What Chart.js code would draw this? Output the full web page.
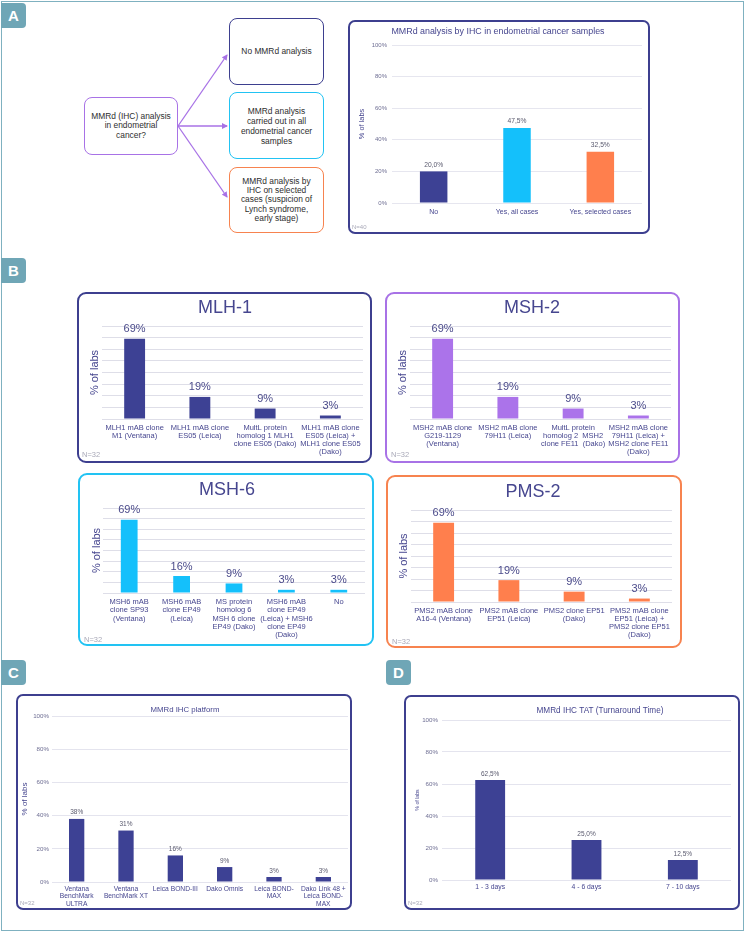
<!DOCTYPE html>
<html>
<head>
<meta charset="utf-8">
<script src="https://cdn.jsdelivr.net/npm/chart.js@4.4.1/dist/chart.umd.min.js"></script>
<style>
  body { margin: 0; background: #fff; font-family: "Liberation Sans", Arial, sans-serif; }
  #page { position: relative; width: 745px; height: 932px; overflow: hidden; background: #fff; }
  #frame { position: absolute; left: 1px; top: 1px; width: 743px; height: 930px; box-sizing: border-box; border: 1.5px solid #7fb1c0; }
  .tag { position: absolute; width: 25px; height: 25px; background: #6fa6b6; color: #fff; font: bold 15px "Liberation Sans", Arial, sans-serif; line-height: 25px; text-align: center; border-radius: 0 4px 4px 0; }
  .box { position: absolute; box-sizing: border-box; border: 2px solid; border-radius: 9px; pointer-events: none; }
  canvas { position: absolute; }
  .flow { position: absolute; box-sizing: border-box; border: 1.5px solid; border-radius: 8px; display: flex; align-items: center; justify-content: center; text-align: center; font-size: 8.4px; line-height: 9.6px; color: #2e2e2e; }
  svg { position: absolute; left: 0; top: 0; }
</style>
</head>
<body>
<div id="page">
  <div id="frame"></div>

  <div class="tag" style="left:1px;top:3px;">A</div>
  <div class="tag" style="left:1px;top:258px;">B</div>
  <div class="tag" style="left:1px;top:660px;">C</div>
  <div class="tag" style="left:386px;top:660px;border-radius:4px;">D</div>

  <!-- flowchart -->
  <div class="flow" style="left:84px;top:97px;width:94px;height:58px;border-color:#a872e6;">MMRd (IHC) analysis<br>in endometrial<br>cancer?</div>
  <div class="flow" style="left:229px;top:18px;width:95px;height:67px;border-color:#3d3f8f;">No MMRd analysis</div>
  <div class="flow" style="left:229px;top:92px;width:95px;height:67px;border-color:#22c3f3;line-height:10px;">MMRd analysis<br>carried out in all<br>endometrial cancer<br>samples</div>
  <div class="flow" style="left:229px;top:167px;width:95px;height:66px;border-color:#f7834f;line-height:9.3px;">MMRd analysis by<br>IHC on selected<br>cases (suspicion of<br>Lynch syndrome,<br>early stage)</div>
  <svg width="745" height="260">
    <defs>
      <marker id="ah" markerWidth="6" markerHeight="6" refX="5" refY="3" orient="auto" markerUnits="userSpaceOnUse">
        <path d="M0,0 L6,3 L0,6 z" fill="#a872e6"/>
      </marker>
    </defs>
    <line x1="178" y1="126" x2="227" y2="55" stroke="#a872e6" stroke-width="1.3" marker-end="url(#ah)"/>
    <line x1="178" y1="126" x2="227" y2="126" stroke="#a872e6" stroke-width="1.3" marker-end="url(#ah)"/>
    <line x1="178" y1="126" x2="227" y2="197" stroke="#a872e6" stroke-width="1.3" marker-end="url(#ah)"/>
  </svg>

  <canvas id="chartA"></canvas>
  <canvas id="chartMLH1"></canvas>
  <canvas id="chartMSH2"></canvas>
  <canvas id="chartMSH6"></canvas>
  <canvas id="chartPMS2"></canvas>
  <canvas id="chartC"></canvas>
  <canvas id="chartD"></canvas>

  <div class="box" style="left:348px;top:20px;width:302px;height:214px;border-color:#3d3f8f;border-radius:7px;"></div>
  <div class="box" style="left:77px;top:292px;width:295px;height:171px;border-color:#3d3f8f;"></div>
  <div class="box" style="left:385px;top:292px;width:295px;height:171px;border-color:#a872e6;"></div>
  <div class="box" style="left:78px;top:473px;width:296px;height:173px;border-color:#22c3f3;"></div>
  <div class="box" style="left:386px;top:475px;width:296px;height:173px;border-color:#f7834f;"></div>
  <div class="box" style="left:16px;top:694px;width:336px;height:216px;border-color:#3d3f8f;border-radius:7px;"></div>
  <div class="box" style="left:404px;top:695px;width:336px;height:215px;border-color:#3d3f8f;border-radius:7px;"></div>
</div>

<script>
// ---- data ----
const aLabels = ['No', 'Yes, all cases', 'Yes, selected cases'];
const aValues = [20.0, 47.5, 32.5];

const mlh1Labels = [['MLH1 mAB clone', 'M1 (Ventana)'], ['MLH1 mAB clone', 'ES05 (Leica)'], ['MultL protein', 'homolog 1 MLH1', 'clone ES05 (Dako)'], ['MLH1 mAB clone', 'ES05 (Leica) +', 'MLH1 clone ES05', '(Dako)']];
const mlh1Values = [69, 19, 9, 3];

const msh2Labels = [['MSH2 mAB clone', 'G219-1129', '(Ventana)'], ['MSH2 mAB clone', '79H11 (Leica)'], ['MultL protein', 'homolog 2  MSH2', 'clone FE11  (Dako)'], ['MSH2 mAB clone', '79H11 (Leica) +', 'MSH2 clone FE11', '(Dako)']];
const msh2Values = [69, 19, 9, 3];

const msh6Labels = [['MSH6 mAB', 'clone SP93', '(Ventana)'], ['MSH6 mAB', 'clone EP49', '(Leica)'], ['MS protein', 'homolog 6', 'MSH 6 clone', 'EP49 (Dako)'], ['MSH6 mAB', 'clone EP49', '(Leica) + MSH6', 'clone EP49', '(Dako)'], ['No']];
const msh6Values = [69, 16, 9, 3, 3];

const pms2Labels = [['PMS2 mAB clone', 'A16-4 (Ventana)'], ['PMS2 mAB clone', 'EP51 (Leica)'], ['PMS2 clone EP51', '(Dako)'], ['PMS2 mAB clone', 'EP51 (Leica) +', 'PMS2 clone EP51', '(Dako)']];
const pms2Values = [69, 19, 9, 3];

const platformLabels = [['Ventana', 'BenchMark', 'ULTRA'], ['Ventana', 'BenchMark XT'], ['Leica BOND-III'], ['Dako Omnis'], ['Leica BOND-', 'MAX'], ['Dako Link 48 +', 'Leica BOND-', 'MAX']];
const platformValues = [38, 31, 16, 9, 3, 3];

const tatLabels = ['1 - 3 days', '4 - 6 days', '7 - 10 days'];
const tatValues = [62.5, 25.0, 12.5];

// ---- colours ----
const NAVY = '#3d4194';
const PURPLE = '#ab73ea';
const CYAN = '#14c0fb';
const ORANGE = '#ff7f4d';
const TXT = '#46468f';
const FAM = '"Liberation Sans", Arial, sans-serif';

Chart.defaults.font.family = FAM;

const comma = v => v.toFixed(1).replace('.', ',') + '%';
const pct = v => v + '%';

// title + N note, drawn in page coordinates
const panelText = {
  id: 'panelText',
  afterDraw(chart, args, o) {
    const ctx = chart.ctx;
    ctx.save();
    ctx.textAlign = 'center';
    ctx.textBaseline = 'middle';
    ctx.font = o.titleFont;
    ctx.fillStyle = o.titleColor;
    ctx.fillText(o.title, o.titleX - o.bx, o.titleY - o.by);
    ctx.textAlign = 'left';
    ctx.font = o.noteFont;
    ctx.fillStyle = '#a9a9b8';
    ctx.fillText(o.note, o.noteX - o.bx, o.noteY - o.by);
    ctx.restore();
  }
};

const valueLabels = {
  id: 'valueLabels',
  afterDatasetsDraw(chart, args, o) {
    const ctx = chart.ctx;
    const meta = chart.getDatasetMeta(0);
    const vals = chart.data.datasets[0].data;
    ctx.save();
    ctx.font = o.font;
    ctx.fillStyle = o.color;
    ctx.textAlign = 'center';
    ctx.textBaseline = 'bottom';
    meta.data.forEach((bar, i) => {
      ctx.fillText(o.format(vals[i]), bar.x, bar.y - o.gap);
    });
    ctx.restore();
  }
};

function makeBar(id, o) {
  const [bx, by, bw, bh] = o.box;
  const [cl, ct, cr, cb] = o.area;
  const el = document.getElementById(id);
  el.style.left = bx + 'px';
  el.style.top = by + 'px';
  el.width = bw;
  el.height = bh;
  const lh = o.yTitleSize * 1.2;
  const padLeft = Math.max(0, o.yTitleX - bx - lh / 2);
  const yWidth = cl - bx - padLeft;
  const xHeight = by + bh - cb;

  return new Chart(el, {
    type: 'bar',
    data: {
      labels: o.labels,
      datasets: [{
        data: o.values,
        backgroundColor: o.colors,
        barPercentage: o.barPct,
        categoryPercentage: 1
      }]
    },
    options: {
      responsive: false,
      animation: false,
      layout: { padding: { left: padLeft, top: ct - by, right: bx + bw - cr, bottom: 0 } },
      plugins: {
        legend: { display: false },
        tooltip: { enabled: false },
        panelText: {
          bx, by,
          title: o.title, titleX: o.titleX, titleY: o.titleY, titleFont: o.titleFont, titleColor: TXT,
          note: o.note, noteX: o.noteX, noteY: o.noteY, noteFont: o.noteFont
        },
        valueLabels: { font: o.valueFont, color: o.valueColor, gap: o.valueGap, format: o.format }
      },
      scales: {
        x: {
          grid: { display: false, drawTicks: false },
          border: { display: false },
          ticks: {
            font: { size: o.xSize, lineHeight: o.xLine },
            color: TXT,
            padding: o.xPad,
            maxRotation: 0,
            minRotation: 0,
            autoSkip: false
          },
          afterFit: s => { s.height = xHeight; s.paddingLeft = 0; s.paddingRight = 0; }
        },
        y: {
          min: 0,
          max: o.yMax,
          ticks: {
            stepSize: o.yStep,
            display: o.showTicks,
            font: { size: o.tickSize },
            color: '#6e6e93',
            padding: o.tickPad,
            callback: v => v + '%'
          },
          grid: { color: o.gridColor, drawTicks: false, lineWidth: 1 },
          border: { display: false },
          title: {
            display: true,
            text: '% of labs',
            font: { size: o.yTitleSize, lineHeight: 1.2 },
            color: TXT,
            padding: 0
          },
          afterFit: s => { s.width = yWidth; s.paddingTop = 0; s.paddingBottom = 0; }
        }
      }
    },
    plugins: [panelText, valueLabels]
  });
}

// Panel A
makeBar('chartA', {
  box: [348, 20, 302, 214], area: [392, 45, 642, 203],
  labels: aLabels, values: aValues, colors: [NAVY, CYAN, ORANGE], barPct: 0.33,
  title: 'MMRd analysis by IHC in endometrial cancer samples', titleX: 498, titleY: 32, titleFont: '8.9px ' + FAM,
  note: 'N=40', noteX: 352, noteY: 227, noteFont: '6px ' + FAM,
  valueFont: '6.7px ' + FAM, valueColor: '#5a5a6e', valueGap: 3, format: comma,
  xSize: 7, xLine: 1.2, xPad: 5,
  yMax: 100, yStep: 20, showTicks: true, tickSize: 6, tickPad: 5, gridColor: '#e6e6ef',
  yTitleSize: 7.4, yTitleX: 362
});

// Panel B
const bCommon = {
  yMax: 80, yStep: 10, showTicks: false, tickSize: 6, tickPad: 4, gridColor: '#dedee8',
  yTitleSize: 11, titleFont: '18px ' + FAM, noteFont: '7.5px ' + FAM, note: 'N=32',
  valueFont: '11px ' + FAM, valueColor: '#4a4a8a', valueGap: 4, format: pct,
  xSize: 7.5, xLine: 1.08, barPct: 0.32
};

makeBar('chartMLH1', Object.assign({}, bCommon, {
  box: [77, 292, 295, 171], area: [102, 326, 363, 419],
  labels: mlh1Labels, values: mlh1Values, colors: NAVY,
  title: 'MLH-1', titleX: 225, titleY: 308, noteX: 82, noteY: 455,
  xPad: 5, yTitleX: 95
}));

makeBar('chartMSH2', Object.assign({}, bCommon, {
  box: [385, 292, 295, 171], area: [410, 326, 671, 419],
  labels: msh2Labels, values: msh2Values, colors: PURPLE,
  title: 'MSH-2', titleX: 532, titleY: 308, noteX: 391, noteY: 455,
  xPad: 5, yTitleX: 403
}));

makeBar('chartMSH6', Object.assign({}, bCommon, {
  box: [78, 473, 296, 173], area: [103, 508, 365, 593],
  labels: msh6Labels, values: msh6Values, colors: CYAN, xLine: 1.1,
  title: 'MSH-6', titleX: 227, titleY: 490, noteX: 84, noteY: 640,
  xPad: 5, yTitleX: 97
}));

makeBar('chartPMS2', Object.assign({}, bCommon, {
  box: [386, 475, 296, 173], area: [411, 510, 672, 602],
  labels: pms2Labels, values: pms2Values, colors: ORANGE,
  title: 'PMS-2', titleX: 533, titleY: 492, noteX: 392, noteY: 642,
  xPad: 5, yTitleX: 404
}));

// Panel C
makeBar('chartC', {
  box: [16, 694, 336, 216], area: [52, 716, 348, 882],
  labels: platformLabels, values: platformValues, colors: NAVY, barPct: 0.31,
  title: 'MMRd IHC platform', titleX: 185, titleY: 710, titleFont: '7.8px ' + FAM,
  note: 'N=32', noteX: 20, noteY: 903, noteFont: '6px ' + FAM,
  valueFont: '6.5px ' + FAM, valueColor: '#5a5a6e', valueGap: 3, format: pct,
  xSize: 6.7, xLine: 1.15, xPad: 3,
  yMax: 100, yStep: 20, showTicks: true, tickSize: 6.2, tickPad: 3, gridColor: '#e4e4ee',
  yTitleSize: 8, yTitleX: 25
});

// Panel D
makeBar('chartD', {
  box: [404, 695, 336, 215], area: [442, 720, 731, 880],
  labels: tatLabels, values: tatValues, colors: NAVY, barPct: 0.31,
  title: 'MMRd IHC TAT (Turnaround Time)', titleX: 600, titleY: 711, titleFont: '8.2px ' + FAM,
  note: 'N=32', noteX: 408, noteY: 903, noteFont: '6px ' + FAM,
  valueFont: '6.5px ' + FAM, valueColor: '#5a5a6e', valueGap: 3, format: comma,
  xSize: 6.8, xLine: 1.2, xPad: 3.5,
  yMax: 100, yStep: 20, showTicks: true, tickSize: 6.2, tickPad: 4, gridColor: '#e4e4ee',
  yTitleSize: 5.2, yTitleX: 418
});
</script>
</body>
</html>
